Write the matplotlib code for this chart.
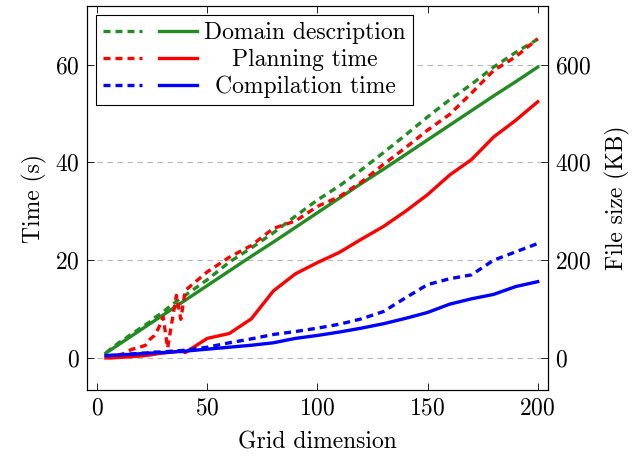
import matplotlib
matplotlib.use('Agg')
import matplotlib.pyplot as plt
from matplotlib.legend_handler import HandlerTuple

plt.rcParams['font.family'] = 'serif'
plt.rcParams['font.serif'] = ['cmr10']
plt.rcParams['mathtext.fontset'] = 'cm'
plt.rcParams['axes.formatter.use_mathtext'] = True
plt.rcParams['font.size'] = 17

# ── data ──
grid = [4, 6, 8, 10, 12, 14, 16, 18, 20, 22, 24, 26, 28, 30, 32, 34, 36, 38, 40,
        50, 60, 70, 80, 90, 100, 110, 120, 130, 140, 150, 160, 170, 180, 190, 200]

# times in seconds (left axis)
domain_time = [1.0, 1.6, 2.2, 2.8, 3.4, 4.0, 4.6, 5.2, 5.8, 6.4, 7.0, 7.6, 8.2, 8.8, 9.4,
               10.0, 10.6, 11.2, 11.8, 14.8, 17.8, 20.8, 23.7, 26.7, 29.7, 32.7, 35.7,
               38.6, 41.6, 44.6, 47.6, 50.6, 53.6, 56.5, 59.5]
planning_time = [0.0, 0.0, 0.05, 0.1, 0.15, 0.2, 0.3, 0.35, 0.4, 0.5, 0.6, 0.75, 0.9, 1.0,
                 1.1, 1.2, 1.3, 1.5, 1.1, 4.0, 5.0, 8.0, 13.7, 17.2, 19.5, 21.6, 24.3,
                 26.9, 30.0, 33.4, 37.4, 40.6, 45.2, 48.6, 52.4]
compilation_time = [0.5, 0.5, 0.6, 0.6, 0.7, 0.7, 0.8, 0.8, 0.9, 0.9, 1.0, 1.0, 1.1, 1.1,
                    1.2, 1.2, 1.3, 1.3, 1.4, 1.8, 2.2, 2.6, 3.1, 4.0, 4.6, 5.3, 6.1,
                    7.0, 8.1, 9.3, 11.0, 12.1, 13.0, 14.6, 15.6]

# file sizes in KB (right axis)
domain_size = [10, 18, 24, 32, 36, 44, 50, 56, 62, 68, 74, 82, 88, 94, 102, 108, 116, 122,
               128, 160, 196, 225, 256, 290, 323, 352, 385, 420, 456, 493, 528, 560,
               595, 625, 652]
planning_size = [2, 3, 5, 6, 9, 14, 18, 20, 23, 26, 38, 46, 62, 84, 20, 75, 128, 79, 138,
                 176, 206, 230, 265, 280, 310, 330, 360, 396, 430, 466, 498, 542, 588,
                 616, 653]
compilation_size = [4, 5, 6, 6, 7, 8, 8, 9, 10, 10, 11, 12, 12, 13, 13, 14, 15, 15, 16,
                    22, 31, 39, 48, 54, 61, 69, 80, 95, 123, 150, 162, 170, 200, 217, 234]

green = '#228b22'
red = '#ff0000'
blue = '#0000ff'
lw = 2.4
dash = (2.1, 1.5)

fig = plt.figure(figsize=(6.41, 4.58), dpi=100)
ax = fig.add_axes([0.135, 0.148, 0.72, 0.839])
ax2 = ax.twinx()

s1, = ax.plot(grid, domain_time, color=green, lw=lw)
s2, = ax.plot(grid, planning_time, color=red, lw=lw)
s3, = ax.plot(grid, compilation_time, color=blue, lw=lw)

d1, = ax2.plot(grid, domain_size, color=green, lw=lw, dashes=dash)
d2, = ax2.plot(grid, planning_size, color=red, lw=lw, dashes=dash)
d3, = ax2.plot(grid, compilation_size, color=blue, lw=lw, dashes=dash)

ax.set_xlim(-4.8, 204.7)
ax.set_ylim(-6.6, 72)
ax2.set_ylim(-66, 720)
ax.set_xticks([0, 50, 100, 150, 200])
ax.set_yticks([0, 20, 40, 60])
ax2.set_yticks([0, 200, 400, 600])

ax.yaxis.grid(True, linestyle=(0, (5, 4)), color='0.72', linewidth=0.8)
ax.set_axisbelow(True)

ax.tick_params(axis='x', direction='in', top=True, length=5, width=0.6, pad=5)
ax.tick_params(axis='y', direction='in', length=5, width=0.6, pad=5)
ax2.tick_params(axis='y', direction='in', length=5, width=0.6, pad=5)
for a in (ax, ax2):
    for sp in a.spines.values():
        sp.set_linewidth(0.8)

ax.set_xlabel('Grid dimension', labelpad=9)
ax.set_ylabel('Time (s)', labelpad=6)
ax2.set_ylabel('File size (KB)', labelpad=10)

leg = ax2.legend([(d1, s1), (d2, s2), (d3, s3)],
                 ['Domain description', 'Planning time', 'Compilation time'],
                 handler_map={tuple: HandlerTuple(ndivide=None, pad=0.72)},
                 loc='upper left', bbox_to_anchor=(0.02, 0.977), borderaxespad=0,
                 fancybox=False, framealpha=1, edgecolor='black',
                 handlelength=4.0, handletextpad=0.3, labelspacing=0.2,
                 borderpad=0.3)
leg.get_frame().set_linewidth(0.8)

# centre the legend labels like pgfplots does
fig.canvas.draw()
widths = [t.get_window_extent().width for t in leg.get_texts()]
for t, w in zip(leg.get_texts(), widths):
    t.set_x((max(widths) - w) / 2)

fig.savefig('out.png', dpi=100)
